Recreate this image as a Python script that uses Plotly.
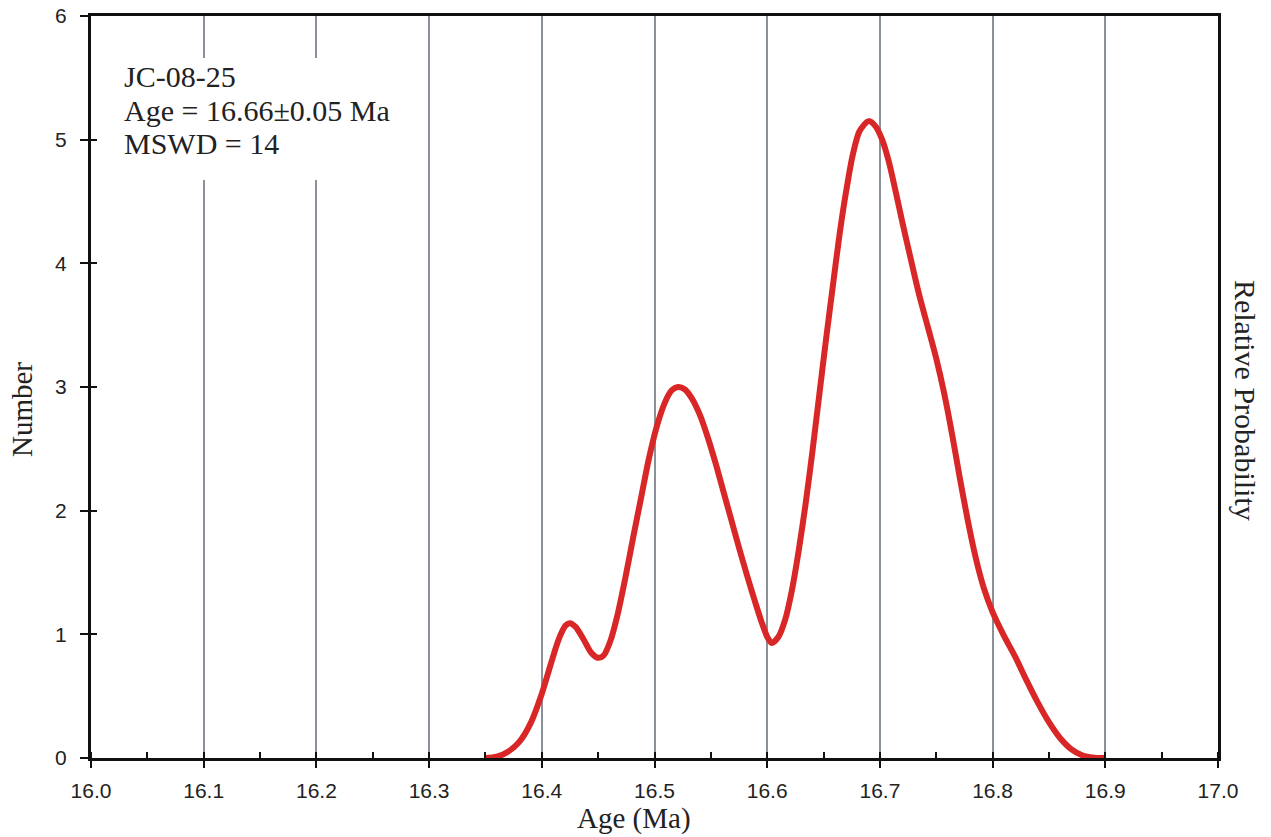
import plotly.graph_objects as go

# Probability-density curve (age in Ma, number)
age_ma = [16.350, 16.360, 16.370, 16.380, 16.390, 16.400, 16.408, 16.415, 16.421, 16.425,
          16.430, 16.437, 16.444, 16.450, 16.455, 16.461, 16.467, 16.474, 16.481, 16.488,
          16.495, 16.502, 16.509, 16.515, 16.521, 16.527, 16.533, 16.540, 16.547, 16.554,
          16.561, 16.568, 16.575, 16.582, 16.589, 16.595, 16.600, 16.604, 16.610, 16.616,
          16.622, 16.628, 16.634, 16.640, 16.646, 16.652, 16.658, 16.664, 16.670, 16.676,
          16.682, 16.690, 16.696, 16.702, 16.708, 16.714, 16.720, 16.727, 16.735, 16.743,
          16.750, 16.757, 16.764, 16.771, 16.778, 16.785, 16.792, 16.800, 16.810, 16.820,
          16.830, 16.840, 16.850, 16.860, 16.870, 16.880, 16.890, 16.900]
number = [0.00, 0.01, 0.05, 0.13, 0.28, 0.52, 0.76, 0.96, 1.07, 1.09,
          1.06, 0.96, 0.85, 0.81, 0.83, 0.95, 1.15, 1.45, 1.78, 2.10,
          2.42, 2.68, 2.87, 2.97, 3.00, 2.98, 2.91, 2.78, 2.60, 2.39,
          2.16, 1.93, 1.70, 1.48, 1.27, 1.10, 0.98, 0.93, 0.98, 1.12,
          1.36, 1.68, 2.05, 2.47, 2.92, 3.37, 3.80, 4.22, 4.58, 4.88,
          5.07, 5.15, 5.11, 5.00, 4.82, 4.58, 4.33, 4.05, 3.74, 3.47,
          3.23, 2.95, 2.62, 2.26, 1.92, 1.62, 1.38, 1.18, 0.99, 0.82,
          0.63, 0.45, 0.29, 0.16, 0.07, 0.02, 0.003, 0.00]

x_ticks = [16.0, 16.1, 16.2, 16.3, 16.4, 16.5, 16.6, 16.7, 16.8, 16.9, 17.0]
x_tick_text = ["16.0", "16.1", "16.2", "16.3", "16.4", "16.5", "16.6", "16.7", "16.8", "16.9", "17.0"]
y_ticks = [0, 1, 2, 3, 4, 5, 6]

info_lines = ["JC-08-25", "Age = 16.66±0.05 Ma", "MSWD = 14"]

serif = "Liberation Serif, Times New Roman, serif"
sans = "Liberation Sans, Arial, sans-serif"

fig = go.Figure()
fig.add_trace(go.Scatter(
    x=age_ma, y=number, mode="lines",
    line=dict(color="#d92727", width=6, shape="spline", smoothing=0.8),
    hoverinfo="skip", showlegend=False,
))
# invisible trace that carries the overlay y-axis (inside tick marks)
fig.add_trace(go.Scatter(x=[16.0], y=[0], yaxis="y2", mode="markers",
                         marker=dict(opacity=0), showlegend=False, hoverinfo="skip"))

fig.update_layout(
    width=1271, height=837,
    margin=dict(l=91, r=53, t=16, b=79),
    paper_bgcolor="white", plot_bgcolor="white",
    xaxis=dict(
        range=[16.0, 17.0], tickvals=x_ticks, ticktext=x_tick_text,
        ticks="outside", ticklen=7, tickwidth=2, tickcolor="#111",
        showline=True, linewidth=3, linecolor="#111", mirror=True,
        showgrid=True, gridcolor="#8a9198", gridwidth=2,
        zeroline=False, automargin=False,
        tickfont=dict(family=sans, size=21, color="#222"),
        ticklabelstandoff=5,
        minor=dict(dtick=0.05, tick0=16.0, ticks="inside", ticklen=6,
                   tickwidth=2, tickcolor="#111", showgrid=False),
    ),
    yaxis=dict(
        range=[0, 6], tickvals=y_ticks,
        ticks="outside", ticklen=8, tickwidth=2, tickcolor="#111",
        showline=True, linewidth=3, linecolor="#111", mirror=True,
        showgrid=False, zeroline=False, automargin=False,
        tickfont=dict(family=sans, size=21, color="#222"),
        ticklabelstandoff=9,
    ),
    yaxis2=dict(
        range=[0, 6], tickvals=y_ticks, overlaying="y", side="left",
        ticks="inside", ticklen=6, tickwidth=2, tickcolor="#111",
        showticklabels=False, showline=False, showgrid=False, zeroline=False,
        automargin=False,
    ),
)

# white panel behind the sample information (masks the grid lines there)
fig.add_shape(type="rect", xref="paper", yref="paper",
              x0=0.008, x1=0.285, y0=0.779, y1=0.9434,
              fillcolor="white", line=dict(width=0), layer="above")

for text, yp in zip(info_lines, [0.9178, 0.8733, 0.8288]):
    fig.add_annotation(text=text, xref="paper", yref="paper", x=0.0275, y=yp,
                       xanchor="left", yanchor="middle", showarrow=False,
                       font=dict(family=serif, size=30, color="#222"))

fig.add_annotation(text="Age (Ma)", xref="paper", yref="paper", x=0.4818, y=-0.0809,
                   xanchor="center", yanchor="middle", showarrow=False,
                   font=dict(family=serif, size=29, color="#222"))
fig.add_annotation(text="Number", xref="paper", yref="paper", x=-0.0612, y=0.469,
                   xanchor="center", yanchor="middle", showarrow=False, textangle=-90,
                   font=dict(family=serif, size=29, color="#222"))
fig.add_annotation(text="Relative Probability", xref="paper", yref="paper", x=1.024, y=0.4825,
                   xanchor="center", yanchor="middle", showarrow=False, textangle=90,
                   font=dict(family=serif, size=30, color="#222"))

fig.write_html("out.html")
